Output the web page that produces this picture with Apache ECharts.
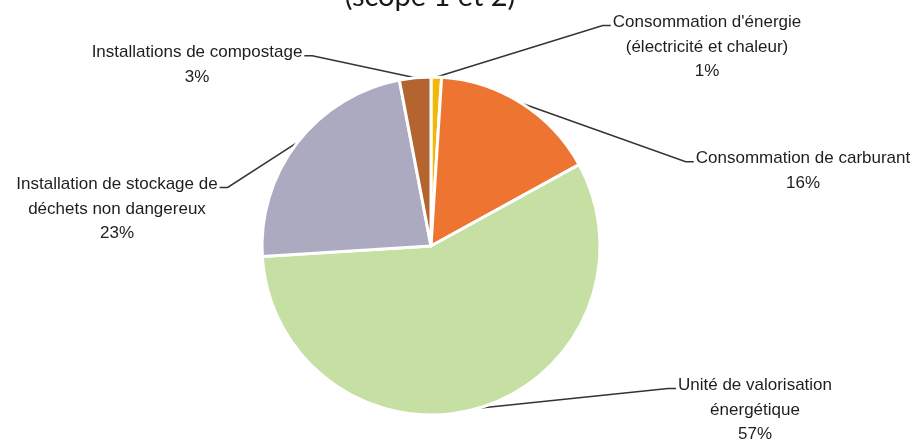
<!DOCTYPE html>
<html><head><meta charset="utf-8">
<script src="https://cdn.jsdelivr.net/npm/echarts@6/dist/echarts.min.js"></script>
<style>html,body{margin:0;padding:0;background:#fff}#c{width:917px;height:441px}</style>
</head><body><div id="c"></div>
<script>
const titleText = "(scope 1 et 2)";
const categories = [
  "Consommation d'énergie\n(électricité et chaleur)",
  "Consommation de carburant",
  "Unité de valorisation\nénergétique",
  "Installation de stockage de\ndéchets non dangereux",
  "Installations de compostage"
];
const values = [1, 16, 57, 23, 3];
const colors = ['#F3B60A', '#EE7431', '#C6DFA2', '#ABAAC0', '#B4652F'];

// label centre positions and attachment side (layout only)
const labelPos = [[707, 47], [803, 171], [755, 410], [117, 209], [197, 65]];
const labelSide = ['left', 'left', 'left', 'right', 'right'];
const LH = 24.5;

const chart = echarts.init(document.getElementById('c'), null, {renderer: 'canvas'});
chart.setOption({
  backgroundColor: '#ffffff',
  animation: false,
  graphic: [{
    type: 'text',
    x: 430,
    y: -3,
    style: {
      text: titleText,
      align: 'center',
      verticalAlign: 'middle',
      font: '29px Lato, "Open Sans", sans-serif',
      fill: '#1a1a1a'
    }
  }],
  series: [{
    type: 'pie',
    center: [431, 246],
    radius: 169,
    startAngle: 90,
    clockwise: true,
    data: categories.map((n, i) => ({name: n, value: values[i], itemStyle: {color: colors[i]}})),
    itemStyle: {borderColor: '#ffffff', borderWidth: 3},
    label: {
      show: true,
      position: 'outside',
      formatter: p => p.name + '\n' + p.value + '%',
      fontFamily: '"Liberation Sans", Arial, sans-serif',
      fontSize: 17,
      lineHeight: LH,
      color: '#1e1e1e',
      align: 'center'
    },
    labelLine: {show: true, length: 0, length2: 0, lineStyle: {color: '#333333', width: 1.5}},
    labelLayout: function (params) {
      const i = params.dataIndex;
      const p = labelPos[i];
      const r = params.labelRect;
      const firstY = p[1] - r.height / 2 + LH / 2 + 3;
      const anchor = params.labelLinePoints ? params.labelLinePoints[0] : [p[0], p[1]];
      let endX, turnX;
      if (labelSide[i] === 'left') {
        endX = p[0] - r.width / 2 - 2;
        turnX = endX - 8;
      } else {
        endX = p[0] + r.width / 2 + 2;
        turnX = endX + 8;
      }
      return {
        x: p[0], y: p[1], align: 'center', verticalAlign: 'middle',
        labelLinePoints: [anchor, [turnX, firstY], [endX, firstY]]
      };
    }
  }]
});
</script></body></html>
